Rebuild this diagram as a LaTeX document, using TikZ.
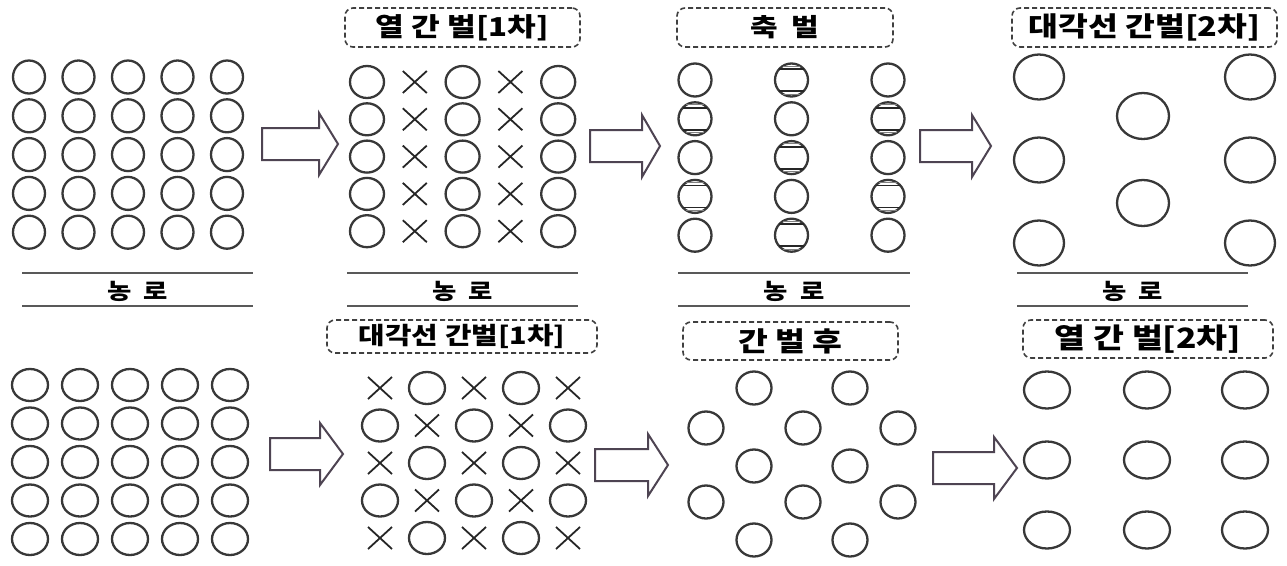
\documentclass[tikz,border=0pt]{standalone}
\usepackage{fontspec}
\newfontfamily\kr{Noto Sans CJK KR}[FakeStretch=1.2]
\usetikzlibrary{calc}
\definecolor{arrowc}{HTML}{4E4452}

% block arrow: tail x, mid y, head start x, tip x
\newcommand{\bigarrow}[4]{%
  \draw[blk] (#1,#2-16) -- (#3,#2-16) -- (#3,#2-31) -- (#4,#2)
    -- (#3,#2+31) -- (#3,#2+16) -- (#1,#2+16) -- cycle;}
% cut-out tree mark
\newcommand{\xmark}[2]{%
  \draw[cutx] (#1-12,#2-11) -- (#1+12,#2+11) (#1-12,#2+11) -- (#1+12,#2-11);}
% thinned tree with chords
\newcommand{\chordtree}[2]{%
  \draw[tree] (#1,#2) ellipse [x radius=16.5pt, y radius=16.5pt];
  \draw[cutx] (#1-12.3,#2-11) -- (#1+12.3,#2-11) (#1-12.3,#2+11) -- (#1+12.3,#2+11);
  \draw[cutx,draw=black!50,line width=1pt] (#1-8.7,#2-14) -- (#1+8.7,#2-14) (#1-8.7,#2+14) -- (#1+8.7,#2+14);}

\begin{document}
\begin{tikzpicture}[
  x=1pt, y=-1pt,
  tree/.style={draw=black!78, line width=2.3pt},
  cutx/.style={draw=black!85, line width=1.8pt},
  blk/.style={draw=arrowc, line width=2pt, fill=white, line join=miter},
  tag/.style={draw=black!75, dash pattern=on 5pt off 3pt, rounded corners=8pt,
    line width=1.6pt, inner sep=0pt},
  road/.style={draw=black!65, line width=1.7pt},
  lab/.style={inner sep=0pt, font=\kr\bfseries}
]
\useasboundingbox (0,0) rectangle (1287,565);

% ---- top row ----
\foreach \c in {0,...,4}
  \foreach \r in {0,...,4}
    \draw[tree] (29+49.5*\c,77+38.8*\r) ellipse [x radius=16pt, y radius=16.5pt];

\node[tag, minimum width=235pt, minimum height=39pt] (tag1) at (462.5,27.5) {};
\node[lab, font=\kr\bfseries\fontsize{26}{28}\selectfont] at (tag1) {열 간 벌[1차]};
\foreach \c in {0,...,4}
  \foreach \r in {0,...,4} {
    \ifodd\c
      \xmark{367+47.8*\c}{82+37.3*\r}
    \else
      \draw[tree] (367+47.8*\c,82+37.3*\r) ellipse [x radius=17pt, y radius=16pt];
    \fi
  }

\node[tag, minimum width=216pt, minimum height=39pt] (tag2) at (785,27.5) {};
\node[lab, font=\kr\bfseries\fontsize{25}{27}\selectfont] at (tag2) {축\ \ 벌};
\foreach \c in {0,1,2}
  \foreach \r in {0,...,4} {
    \pgfmathtruncatemacro{\odd}{mod(\c+\r,2)}
    \ifnum\odd=1
      \chordtree{695+96.5*\c}{80+38.8*\r}
    \else
      \draw[tree] (695+96.5*\c,80+38.8*\r) ellipse [x radius=16.5pt, y radius=16.5pt];
    \fi
  }

\node[tag, minimum width=265pt, minimum height=39pt] (tag3) at (1144.5,27.5) {};
\node[lab, font=\kr\bfseries\fontsize{27}{29}\selectfont] at (tag3) {대각선 간벌[2차]};
\foreach \y in {77,160,243} {
  \draw[tree] (1039,\y) ellipse [x radius=25pt, y radius=22.5pt];
  \draw[tree] (1250,\y) ellipse [x radius=25pt, y radius=22.5pt];
}
\foreach \y in {116,203}
  \draw[tree] (1143,\y) ellipse [x radius=26pt, y radius=23pt];

% farm roads
\foreach \a/\b [count=\i] in {22/253, 347/578, 678/910, 1017/1248} {
  \draw[road] (\a,273) -- (\b,273);
  \draw[road] (\a,306) -- (\b,306);
  \node[lab, font=\kr\bfseries\fontsize{22}{24}\selectfont] (road\i) at ({(\a+\b)/2},291) {농\ \ 로};
}

\bigarrow{262}{144}{319}{338}
\bigarrow{590}{146}{642}{660}
\bigarrow{920}{146}{972}{991}

% ---- bottom row ----
\foreach \c in {0,...,4}
  \foreach \r in {0,...,4}
    \draw[tree] (30+50*\c,385+38.5*\r) ellipse [x radius=18pt, y radius=16pt];

\node[tag, minimum width=270pt, minimum height=33pt] (tag4) at (462,336.5) {};
\node[lab, font=\kr\bfseries\fontsize{24}{26}\selectfont] at (tag4) {대각선 간벌[1차]};
\foreach \c in {0,...,4}
  \foreach \r in {0,...,4} {
    \pgfmathtruncatemacro{\odd}{mod(\c+\r,2)}
    \ifnum\odd=0
      \xmark{380+47*\c}{388+37.5*\r}
    \else
      \draw[tree] (380+47*\c,388+37.5*\r) ellipse [x radius=18pt, y radius=16pt];
    \fi
  }

\node[tag, minimum width=215pt, minimum height=38pt] (tag5) at (790.5,341) {};
\node[lab, font=\kr\bfseries\fontsize{27}{29}\selectfont] at (tag5) {간 벌 후};
\foreach \y in {388,466,540}
  \foreach \x in {754,850}
    \draw[tree] (\x,\y) ellipse [x radius=17.5pt, y radius=16.5pt];
\foreach \y in {428,502}
  \foreach \x in {706,803,898}
    \draw[tree] (\x,\y) ellipse [x radius=17.5pt, y radius=16.5pt];

\node[tag, minimum width=250pt, minimum height=38pt] (tag6) at (1148,339) {};
\node[lab, font=\kr\bfseries\fontsize{28}{30}\selectfont] at (tag6) {열 간 벌[2차]};
\foreach \x in {1047,1147,1245}
  \foreach \y in {390,460,530}
    \draw[tree] (\x,\y) ellipse [x radius=23pt, y radius=18.5pt];

\bigarrow{270}{454}{320}{343}
\bigarrow{595}{465}{648}{668}
\bigarrow{933}{468}{994}{1017}
\end{tikzpicture}
\end{document}
